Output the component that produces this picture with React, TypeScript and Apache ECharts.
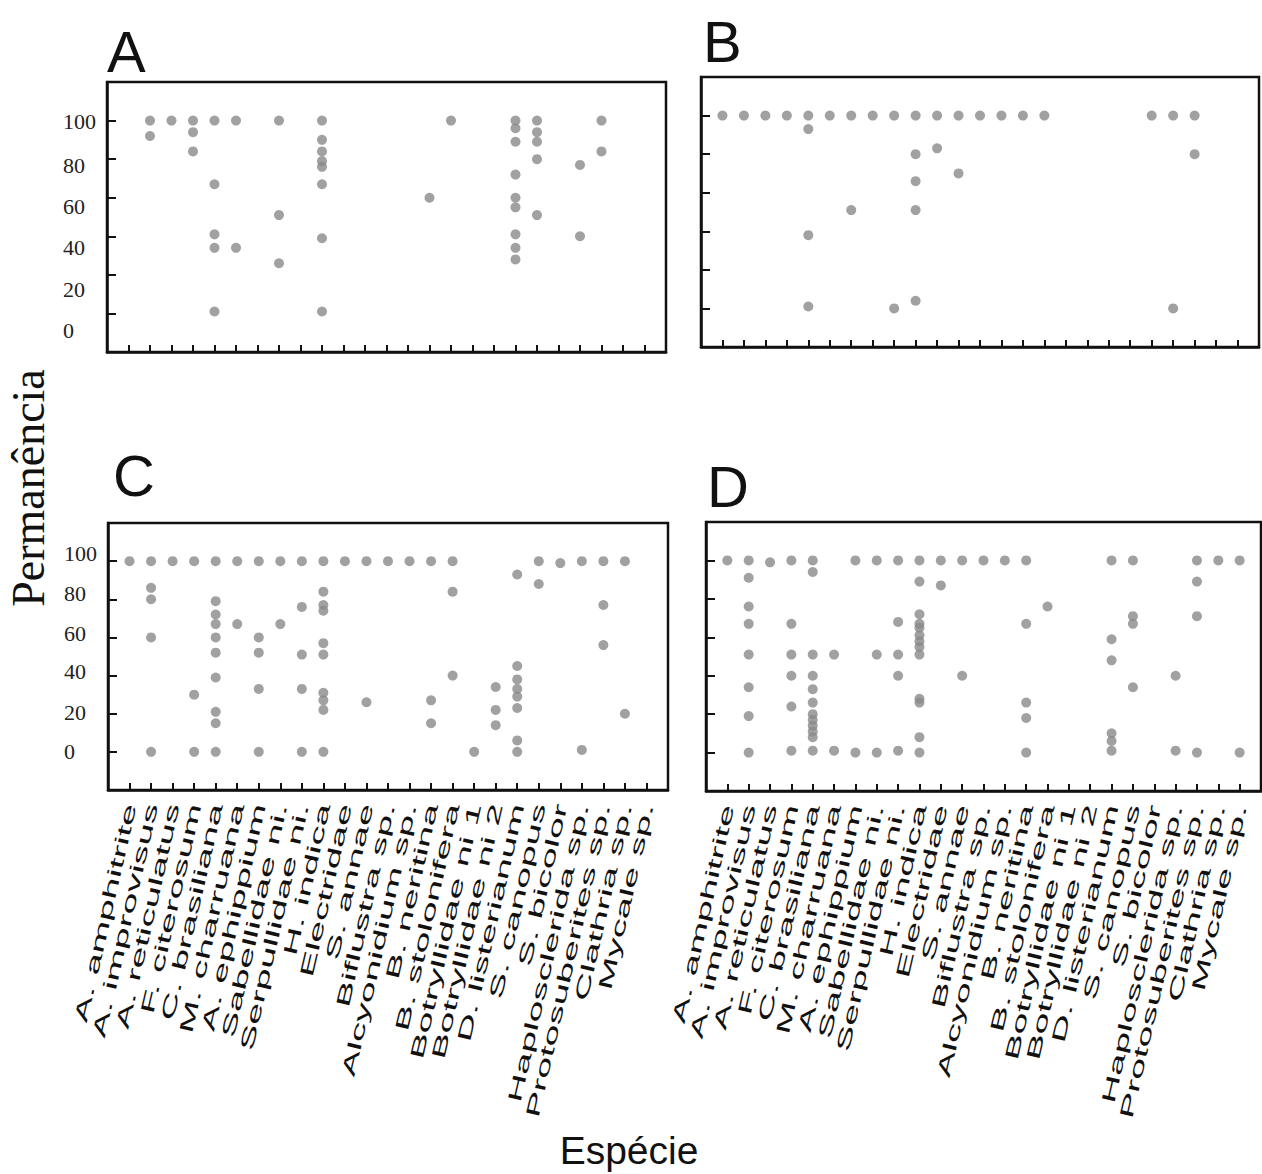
import React, { useEffect, useRef } from 'react';
import * as echarts from 'echarts';

const categories = [
  'A. amphitrite', 'A. improvisus', 'A. reticulatus', 'F. citerosum', 'C. brasiliana',
  'M. charruana', 'A. ephippium', 'Sabellidae ni.', 'Serpullidae ni.', 'H. indica',
  'Electridae', 'S. annae', 'Biflustra sp.', 'Alcyonidium sp.', 'B. neritina',
  'B. stolonifera', 'Botryllidae ni 1', 'Botryllidae ni 2', 'D. listerianum', 'S. canopus',
  'S. bicolor', 'Haplosclerida sp.', 'Protosuberites sp.', 'Clathria sp.', 'Mycale sp.',
];

const yTickLabels = [0, 20, 40, 60, 80, 100];
// vertical drift of the printed tick labels (px, + = down) in panels A and C
const labelDriftA = [17, 15, 11, 9, 6, 1];
const labelDriftC = [0, -1, -4, -4, -6, -8];

// Permanência values per species (index matches categories)
const permanenciaA = [
  [], [100, 92], [100], [100, 94, 84], [100, 67, 41, 34, 1],
  [100, 34], [], [100, 51, 26], [], [100, 90, 84, 79, 76, 67, 39, 1],
  [], [], [], [], [60],
  [100], [], [], [100, 96, 89, 72, 60, 55, 41, 34, 28], [100, 94, 89, 80, 51],
  [], [77, 40], [100, 84], [], [],
];

const permanenciaB = [
  [100], [100], [100], [100], [100, 93, 38, 1],
  [100], [100, 51], [100], [100, 0], [100, 80, 66, 51, 4],
  [100, 83], [100, 70], [100], [100], [100],
  [100], [], [], [], [],
  [100], [100, 0], [100, 80], [], [],
];

const permanenciaC = [
  [100], [100, 86, 80, 60, 0], [100], [100, 30, 0], [100, 79, 72, 67, 60, 52, 39, 21, 15, 0],
  [100, 67], [100, 60, 52, 33, 0], [100, 67], [100, 76, 51, 33, 0], [100, 84, 77, 74, 57, 51, 31, 27, 22, 0],
  [100], [100, 26], [100], [100], [100, 27, 15],
  [100, 84, 40], [0], [34, 22, 14], [93, 45, 38, 33, 29, 23, 6, 0], [100, 88],
  [99], [100, 1], [100, 77, 56], [100, 20], [],
];

const permanenciaD = [
  [100], [100, 91, 76, 67, 51, 34, 19, 0], [99], [100, 67, 51, 40, 24, 1], [100, 94, 51, 40, 33, 26, 20, 17, 14, 11, 8, 1],
  [51, 1], [100, 0], [100, 51, 0], [100, 68, 51, 40, 1], [100, 89, 72, 67, 65, 61, 58, 55, 51, 28, 26, 8, 0],
  [100, 87], [100, 40], [100], [100], [100, 67, 26, 18, 0],
  [76], [], [], [100, 59, 48, 10, 6, 1], [100, 71, 67, 34],
  [], [40, 1], [100, 89, 71, 0], [100], [100, 0],
];

const panels = [permanenciaA, permanenciaB, permanenciaC, permanenciaD];
const panelLetters = ['A', 'B', 'C', 'D'];
const yTitle = 'Permanência';
const xTitle = 'Espécie';

function toPoints(vals: number[][]) {
  const out: number[][] = [];
  vals.forEach((list, i) => list.forEach((v) => out.push([i, v])));
  return out;
}

const gridBoxes = [
  { left: 107, top: 82, width: 559, height: 270 },
  { left: 701, top: 77, width: 558, height: 270 },
  { left: 108, top: 523, width: 560, height: 267 },
  { left: 706, top: 522, width: 555, height: 269 },
];

const letterPos = [
  { x: 107, y: 51 },
  { x: 703, y: 41 },
  { x: 113, y: 475 },
  { x: 707, y: 486 },
];

function driftRich(drift: number[]) {
  const rich: any = {};
  drift.forEach((d, k) => {
    rich['t' + k] = {
      fontFamily: '"Liberation Serif", serif',
      fontSize: 22,
      color: '#222',
      padding: d >= 0 ? [2 * d, 0, 0, 0] : [0, 0, -2 * d, 0],
    };
  });
  return rich;
}

export default function App() {
  const ref = useRef<HTMLDivElement>(null);
  useEffect(() => {
    if (!ref.current) return;
    const chart = echarts.init(ref.current, null, { renderer: 'svg' });
    const lineColor = '#111';
    const option: any = {
      animation: false,
      backgroundColor: '#fff',
      grid: gridBoxes.map((g) => ({
        ...g,
        show: true,
        borderColor: lineColor,
        borderWidth: 2.5,
        backgroundColor: 'transparent',
        containLabel: false,
      })),
      xAxis: gridBoxes.map((_, i) => ({
        type: 'value',
        gridIndex: i,
        min: -1,
        max: 25,
        interval: 1,
        axisLine: { show: true, onZero: false, lineStyle: { color: lineColor, width: 2.5 } },
        axisTick: { show: true, inside: true, length: 7, lineStyle: { color: lineColor, width: 2 } },
        axisLabel: { show: false },
        splitLine: { show: false },
      })),
      yAxis: gridBoxes.map((_, i) => {
        const drift = i === 0 ? labelDriftA : labelDriftC;
        return {
          type: 'value',
          gridIndex: i,
          min: -20,
          max: 120,
          interval: 20,
          axisLine: { show: true, onZero: false, lineStyle: { color: lineColor, width: 2.5 } },
          axisTick: { show: true, inside: true, length: 9, lineStyle: { color: lineColor, width: 2 } },
          axisLabel: {
            show: i === 0 || i === 2,
            align: 'left',
            margin: 44,
            fontFamily: '"Liberation Serif", serif',
            fontSize: 22,
            color: '#222',
            rich: driftRich(drift),
            formatter: (v: number) => {
              const k = yTickLabels.indexOf(v);
              return k < 0 ? '' : '{t' + k + '|' + v + '}';
            },
          },
          splitLine: { show: false },
        };
      }),
      series: panels.map((p, i) => ({
        type: 'scatter',
        xAxisIndex: i,
        yAxisIndex: i,
        symbol: 'circle',
        symbolSize: 10,
        itemStyle: { color: '#8a8a8a' },
        data: toPoints(p),
      })),
    };
    chart.setOption(option);

    const graphics: any[] = [];
    [2, 3].forEach((g) => {
      categories.forEach((name, i) => {
        const p = chart.convertToPixel({ gridIndex: g } as any, [i, -20]) as number[];
        graphics.push({
          type: 'text',
          x: p[0] + 1,
          y: p[1] + 14,
          rotation: (77 * Math.PI) / 180,
          scaleX: 2.1,
          scaleY: 1,
          silent: true,
          style: {
            text: name,
            fill: '#111',
            fontSize: 19,
            fontFamily: '"Liberation Sans", Arial, sans-serif',
            align: 'right',
            textAlign: 'right',
            verticalAlign: 'middle',
            textVerticalAlign: 'middle',
          },
        });
      });
    });
    panelLetters.forEach((L, i) => {
      graphics.push({
        type: 'text',
        x: letterPos[i].x,
        y: letterPos[i].y,
        silent: true,
        style: {
          text: L,
          fill: '#111',
          fontSize: 58,
          fontFamily: '"Liberation Sans", Arial, sans-serif',
          align: 'left',
          textAlign: 'left',
          verticalAlign: 'middle',
          textVerticalAlign: 'middle',
        },
      });
    });
    graphics.push({
      type: 'text',
      x: 28,
      y: 488,
      rotation: Math.PI / 2,
      silent: true,
      style: {
        text: yTitle,
        fill: '#111',
        fontSize: 46,
        fontFamily: '"Liberation Serif", serif',
        align: 'center',
        textAlign: 'center',
        verticalAlign: 'middle',
        textVerticalAlign: 'middle',
      },
    });
    graphics.push({
      type: 'text',
      x: 629,
      y: 1150,
      silent: true,
      style: {
        text: xTitle,
        fill: '#111',
        fontSize: 39,
        fontFamily: '"Liberation Sans", Arial, sans-serif',
        align: 'center',
        textAlign: 'center',
        verticalAlign: 'middle',
        textVerticalAlign: 'middle',
      },
    });
    chart.setOption({ graphic: graphics });
    return () => chart.dispose();
  }, []);
  return (
    <div
      ref={ref}
      style={{ position: 'absolute', left: 0, top: 0, width: 1262, height: 1174 }}
    />
  );
}
